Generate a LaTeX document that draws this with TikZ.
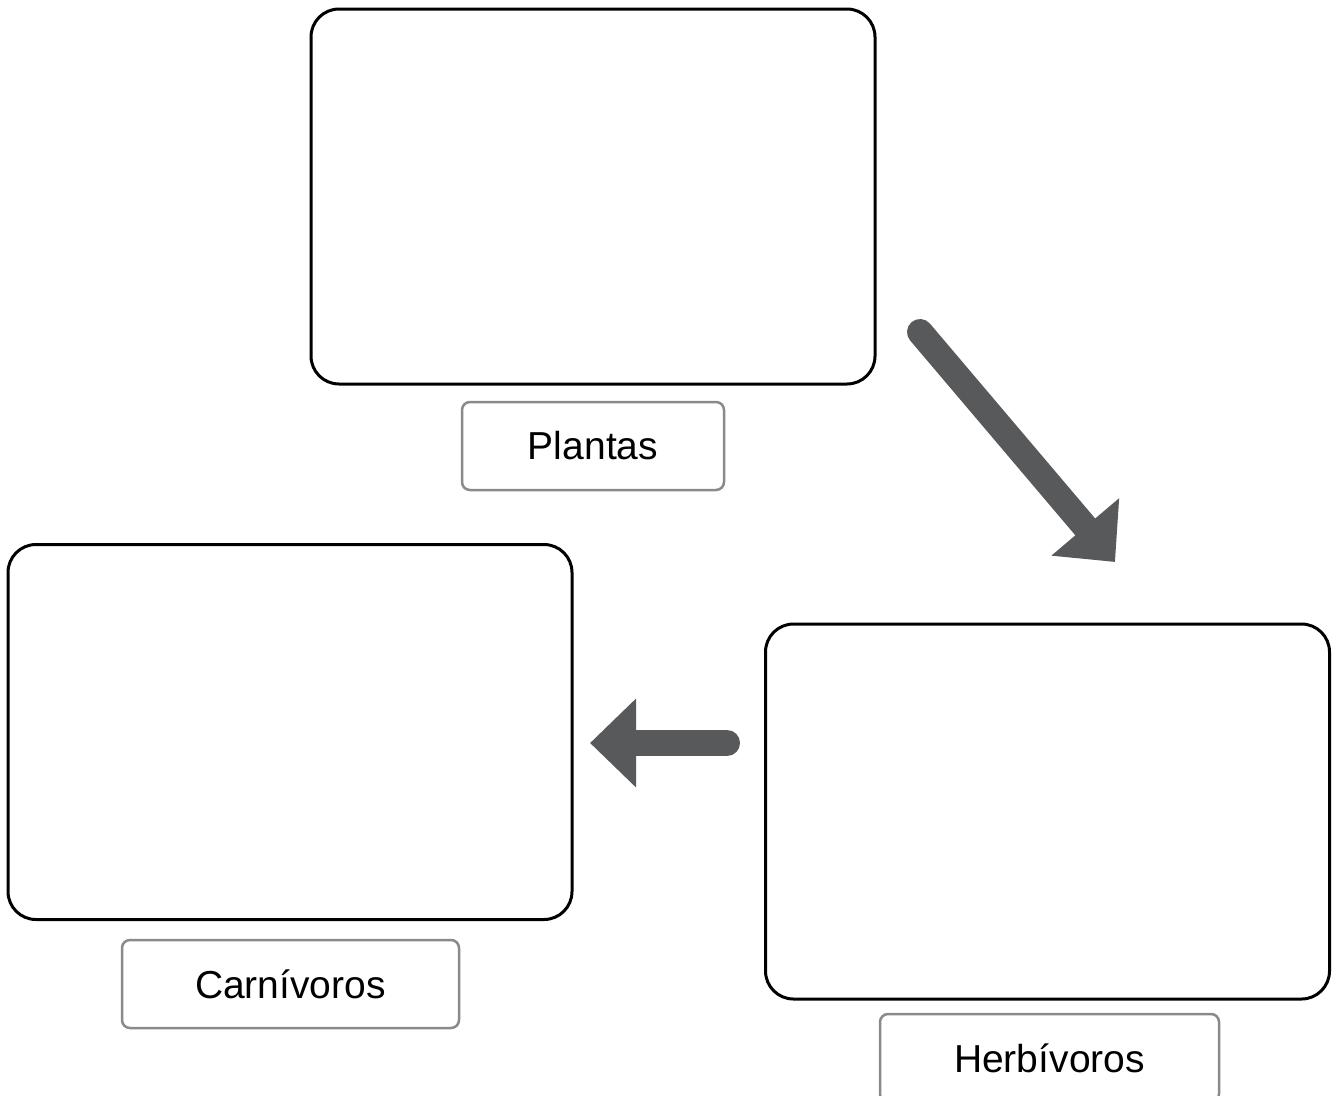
\documentclass[tikz,border=0pt]{standalone}
\usepackage{fontspec}
\setmainfont{Liberation Sans}
\usetikzlibrary{arrows.meta}
\definecolor{arrowgrey}{HTML}{58595B}
\definecolor{labgrey}{HTML}{8A8A8A}
\begin{document}
\begin{tikzpicture}[x=1pt,y=-1pt,
  bigbox/.style={draw=black,line width=3pt,rounded corners=28pt,minimum width=564pt,minimum height=375pt,inner sep=0pt},
  labbox/.style={draw=labgrey,line width=2.5pt,rounded corners=8pt,minimum height=88pt,inner sep=0pt,font=\fontsize{39}{46}\selectfont},
  bigarrow/.style={draw=arrowgrey,line width=26pt,line cap=round,-{Triangle[length=46pt,width=86pt]}}]
\clip (0,0) rectangle (1337,1095);
\fill[white] (0,0) rectangle (1337,1095);
\node[bigbox] (plantas) at (593,196.5) {};
\node[bigbox] (carn) at (290,732) {};
\node[bigbox] (herb) at (1047.5,811.5) {};
\node[labbox,minimum width=262pt] (lplantas) at (593,446) {Plantas};
\node[labbox,minimum width=337pt] (lcarn) at (290.5,984) {Carnívoros};
\node[labbox,minimum width=339pt] (lherb) at (1049.5,1058) {Herbívoros};
\coordinate (a1s) at (920,332);
\coordinate (a1e) at (1115,562);
\coordinate (a2s) at (727,743);
\coordinate (a2e) at (590,743);
\draw[bigarrow] (a1s) -- (a1e);
\draw[bigarrow] (a2s) -- (a2e);
\end{tikzpicture}
\end{document}
